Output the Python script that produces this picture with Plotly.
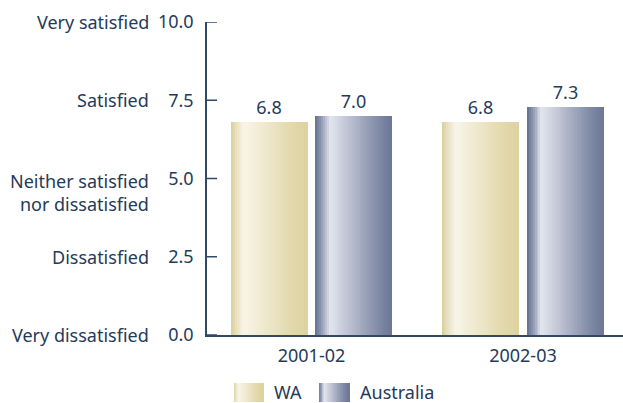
import plotly.graph_objects as go

# ---- data -------------------------------------------------------------
periods = ["2001-02", "2002-03"]
series_names = ["WA", "Australia"]
wa_values = [6.8, 6.8]
australia_values = [7.0, 7.3]

y_tick_values = [0, 2.5, 5, 7.5, 10]
y_tick_numbers = ["0.0", "2.5", "5.0", "7.5", "10.0"]
y_tick_words = ["Very dissatisfied", "Dissatisfied",
                "Neither satisfied<br>nor dissatisfied", "Satisfied", "Very satisfied"]

# ---- styling ----------------------------------------------------------
TEXT = "#1f3b5a"
AXIS = "#2e4a68"
FONT = "Noto Sans"
N_STRIPS = 40

wa_stops = [(0.0, "#d8cd9c"), (0.05, "#e6dcb6"), (0.17, "#f8f5e9"),
            (0.45, "#efe8cd"), (0.8, "#e2d8ac"), (1.0, "#ddd29f")]
aus_stops = [(0.0, "#63708e"), (0.07, "#8a95ad"), (0.19, "#e3e5ed"),
             (0.5, "#b3b8cb"), (0.85, "#7c87a3"), (1.0, "#6b7795")]

BAR_W = 0.362
offsets = {"WA": -0.381, "Australia": 0.019}


def hex_to_rgb(h):
    h = h.lstrip("#")
    return tuple(int(h[i:i + 2], 16) for i in (0, 2, 4))


def color_at(stops, t):
    for (p0, c0), (p1, c1) in zip(stops[:-1], stops[1:]):
        if p0 <= t <= p1:
            f = (t - p0) / (p1 - p0) if p1 > p0 else 0
            a, b = hex_to_rgb(c0), hex_to_rgb(c1)
            r = [round(a[k] + (b[k] - a[k]) * f) for k in range(3)]
            return f"rgb({r[0]},{r[1]},{r[2]})"
    return stops[-1][1]


def gradient_bars(x, y, offset, width, stops, xaxis="x", yaxis="y"):
    """Shaded bar built from thin vertical strips side by side."""
    traces = []
    sw = width / N_STRIPS
    for i in range(N_STRIPS):
        traces.append(go.Bar(
            x=x, y=y, offset=offset + i * sw, width=sw * 1.08,
            marker=dict(color=color_at(stops, (i + 0.5) / N_STRIPS), line_width=0),
            xaxis=xaxis, yaxis=yaxis, showlegend=False, hoverinfo="skip",
        ))
    return traces


fig = go.Figure()
xpos = list(range(len(periods)))

for name, vals, stops in [("WA", wa_values, wa_stops),
                          ("Australia", australia_values, aus_stops)]:
    fig.add_traces(gradient_bars(xpos, vals, offsets[name], BAR_W, stops))
    # transparent bar carrying the value label
    fig.add_trace(go.Bar(
        x=xpos, y=vals, offset=offsets[name], width=BAR_W, name=name,
        marker=dict(color="rgba(0,0,0,0)", line_width=0),
        text=[f"{v:.1f}" for v in vals], textposition="outside",
        textfont=dict(family=FONT, size=18, color=TEXT),
        cliponaxis=False, showlegend=False,
    ))

# ---- legend drawn on its own small axes -------------------------------
legend_swatches = {"WA": (27, 29), "Australia": (112, 30)}
for name, stops in [("WA", wa_stops), ("Australia", aus_stops)]:
    left, w = legend_swatches[name]
    fig.add_traces(gradient_bars([left], [1], 0, w, stops, xaxis="x2", yaxis="y2"))
    fig.add_annotation(x=left + w + 10, y=0.5, xref="x2", yref="y2", text=name,
                       showarrow=False, xanchor="left", yanchor="middle",
                       yshift=1, borderpad=0,
                       font=dict(family=FONT, size=18, color=TEXT))

# ---- word labels beside the numeric scale -----------------------------
for val, word in zip(y_tick_values, y_tick_words):
    multi = "<br>" in word
    fig.add_annotation(
        x=0, xref="paper", y=val, yref="y", text=word, showarrow=False,
        xanchor="right", xshift=-56, align="right",
        yanchor="top" if multi else "middle", yshift=12 if multi else 0,
        font=dict(family=FONT, size=18, color=TEXT),
    )

# short tick marks pointing into the plot from the value axis
for val in y_tick_values:
    fig.add_shape(type="line", xref="x domain", yref="y",
                  x0=0, x1=10 / 416, y0=val, y1=val,
                  line=dict(color=AXIS, width=1.5))

fig.update_layout(
    width=623, height=403,
    margin=dict(l=207, r=0, t=22, b=0, autoexpand=False),
    barmode="overlay", bargap=0,
    plot_bgcolor="white", paper_bgcolor="white",
    font=dict(family=FONT, size=18, color=TEXT),
    showlegend=False,
    xaxis=dict(
        range=[-0.494, 1.473], tickvals=xpos, ticktext=periods,
        showline=True, linecolor=AXIS, linewidth=1.5, ticks="",
        showgrid=False, zeroline=False, ticklabelstandoff=4, automargin=False,
    ),
    yaxis=dict(
        domain=[68 / 381, 1], range=[0, 10],
        tickvals=y_tick_values, ticktext=y_tick_numbers,
        showline=True, linecolor=AXIS, linewidth=1.5, ticks="",
        showgrid=False, zeroline=False, ticklabelstandoff=8, automargin=False,
    ),
    xaxis2=dict(domain=[0, 1], range=[0, 416], anchor="y2", visible=False,
                automargin=False),
    yaxis2=dict(domain=[1 / 381, 20 / 381], range=[0, 1], anchor="x2", visible=False,
                automargin=False),
)

fig.write_html("out.html")
